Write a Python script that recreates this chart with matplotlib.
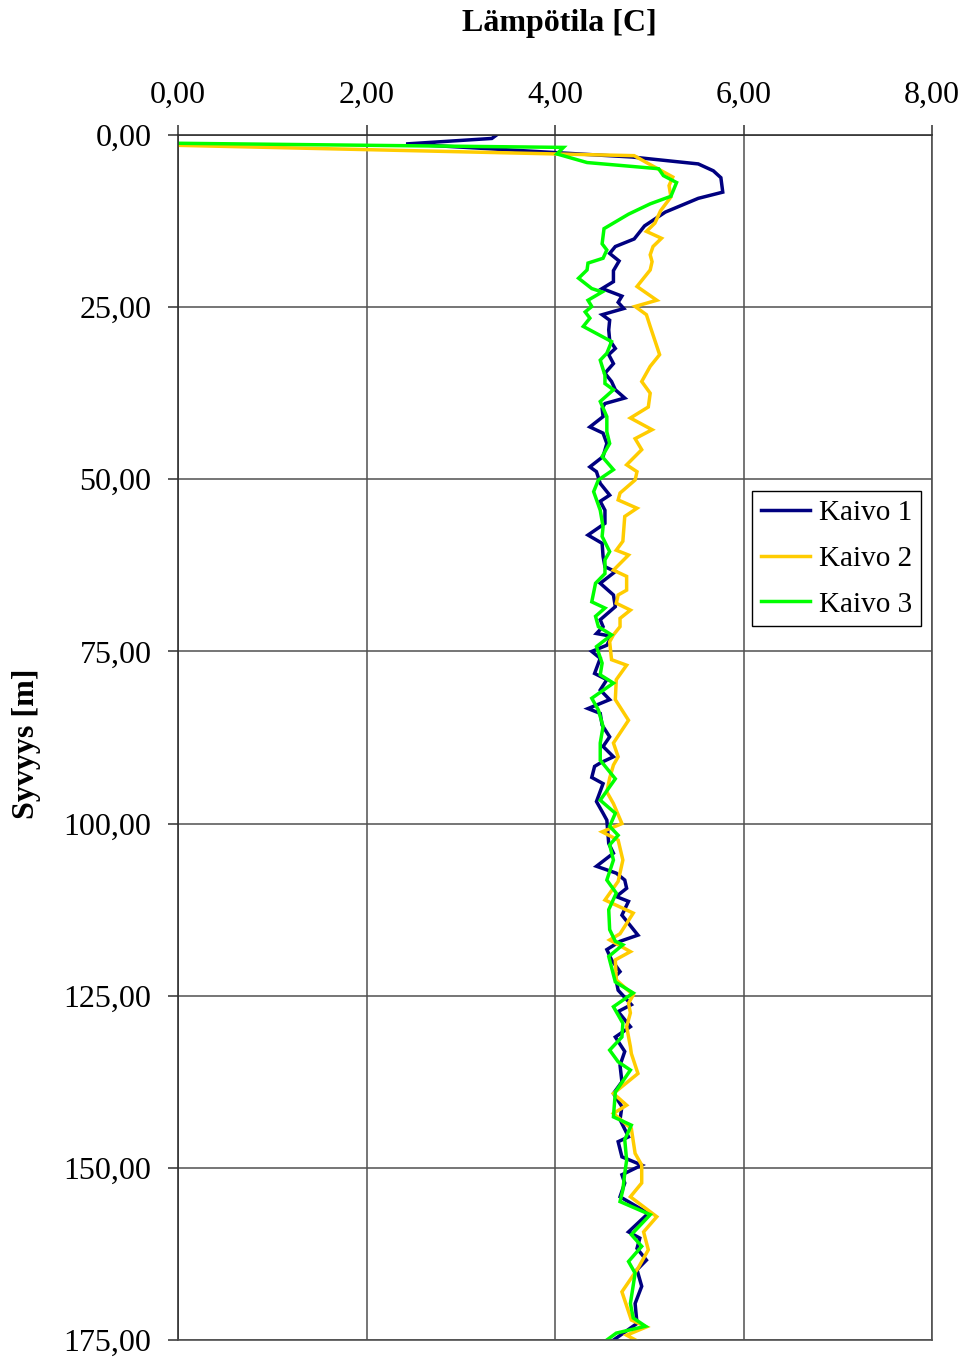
import matplotlib
matplotlib.use("Agg")
import matplotlib.pyplot as plt

# (depth [m], temperature [C]) pairs
kaivo1 = [
    (0.0, 3.38), (0.5, 3.33), (1.3, 2.42), (3.2, 4.82), (4.2, 5.52), (5.2, 5.68), (6.2, 5.76),
    (8.3, 5.78), (9.2, 5.52), (11.2, 5.17), (13.2, 4.95), (15.1, 4.84), (16.2, 4.64), (17.2, 4.58),
    (18.3, 4.68), (19.7, 4.62), (21.3, 4.62), (22.3, 4.50), (23.4, 4.71), (24.3, 4.67), (25.2, 4.73),
    (26.1, 4.50), (26.9, 4.58), (28.3, 4.57), (29.8, 4.58), (31.0, 4.64), (31.9, 4.57), (33.2, 4.62),
    (34.6, 4.53), (35.8, 4.60), (37.0, 4.64), (38.2, 4.74), (39.0, 4.53), (39.7, 4.50), (40.9, 4.51),
    (42.4, 4.37), (43.3, 4.51), (44.8, 4.55), (46.7, 4.51), (48.2, 4.37), (48.9, 4.44), (50.6, 4.48),
    (52.3, 4.58), (53.2, 4.48), (54.5, 4.53), (56.4, 4.53), (58.1, 4.35), (59.3, 4.50), (61.2, 4.51),
    (62.7, 4.53), (63.4, 4.64), (65.1, 4.48), (66.8, 4.62), (68.5, 4.64), (70.4, 4.48), (71.4, 4.51),
    (72.4, 4.44), (72.8, 4.60), (74.1, 4.55), (75.0, 4.39), (76.0, 4.48), (78.2, 4.42), (79.1, 4.55),
    (80.6, 4.48), (82.0, 4.58), (83.3, 4.35), (84.0, 4.48), (85.7, 4.50), (87.4, 4.58), (88.8, 4.51),
    (90.3, 4.62), (91.2, 4.48), (91.7, 4.42), (93.3, 4.39), (94.2, 4.51), (96.8, 4.44), (98.5, 4.51),
    (99.5, 4.55), (102.9, 4.57), (104.3, 4.62), (106.2, 4.44), (107.2, 4.65), (108.2, 4.74),
    (109.4, 4.76), (110.6, 4.65), (111.3, 4.78), (113.3, 4.71), (116.2, 4.88), (117.1, 4.69),
    (118.3, 4.55), (119.8, 4.60), (121.5, 4.69), (122.2, 4.64), (124.2, 4.67), (126.3, 4.81),
    (127.3, 4.67), (129.5, 4.80), (131.0, 4.64), (133.1, 4.74), (135.1, 4.69), (137.5, 4.71),
    (139.2, 4.62), (141.1, 4.71), (143.0, 4.69), (145.5, 4.78), (146.2, 4.67), (148.4, 4.71),
    (149.6, 4.92), (151.0, 4.71), (152.2, 4.74), (154.2, 4.69), (156.6, 4.99), (159.3, 4.78),
    (160.2, 4.90), (161.7, 4.87), (163.4, 4.97), (164.8, 4.87), (167.2, 4.92), (169.7, 4.85),
    (172.6, 4.87), (175.5, 4.57),
]

kaivo2 = [
    (1.5, 0.00), (2.75, 4.00), (3.0, 4.84), (4.0, 4.97), (6.1, 5.25), (7.35, 5.21), (9.0, 5.23),
    (11.0, 5.12), (12.8, 5.06), (14.0, 4.97), (15.0, 5.13), (16.2, 5.04), (17.4, 5.01), (18.4, 5.03),
    (19.6, 5.01), (22.0, 4.87), (24.0, 5.08), (24.9, 4.85), (26.1, 4.97), (27.8, 5.01), (31.9, 5.11),
    (33.6, 5.01), (35.8, 4.92), (37.5, 5.01), (39.5, 4.99), (41.1, 4.80), (42.8, 5.03), (44.1, 4.85),
    (45.7, 4.92), (47.9, 4.76), (48.9, 4.87), (50.1, 4.85), (52.0, 4.69), (53.0, 4.67), (54.2, 4.87),
    (55.4, 4.74), (59.0, 4.72), (60.3, 4.65), (61.0, 4.78), (63.2, 4.62), (64.1, 4.76), (66.1, 4.76),
    (66.8, 4.67), (68.0, 4.65), (69.0, 4.80), (70.2, 4.69), (71.4, 4.69), (72.6, 4.62), (73.6, 4.58),
    (76.2, 4.60), (77.0, 4.76), (79.1, 4.65), (82.0, 4.64), (85.0, 4.78), (88.3, 4.62), (90.3, 4.67),
    (91.5, 4.62), (93.4, 4.58), (95.4, 4.55), (97.1, 4.62), (100.0, 4.71), (101.2, 4.50),
    (102.4, 4.67), (105.3, 4.72), (108.4, 4.67), (111.1, 4.53), (113.0, 4.83), (116.0, 4.69),
    (116.9, 4.58), (118.6, 4.80), (119.8, 4.64), (122.7, 4.65), (124.9, 4.83), (126.1, 4.78),
    (127.5, 4.80), (129.5, 4.76), (132.4, 4.80), (133.4, 4.81), (136.3, 4.88), (139.2, 4.62),
    (140.9, 4.76), (142.1, 4.62), (144.3, 4.81), (147.9, 4.85), (149.6, 4.92), (152.2, 4.92),
    (154.2, 4.80), (157.1, 5.08), (159.3, 4.94), (161.9, 4.99), (164.6, 4.88), (168.0, 4.71),
    (172.1, 4.81), (173.1, 4.97), (174.3, 4.76), (175.5, 4.92),
]

kaivo3 = [
    (1.2, 0.00), (1.8, 4.09), (2.75, 4.02), (4.0, 4.34), (4.9, 5.10), (5.9, 5.15), (6.9, 5.29),
    (8.9, 5.23), (10.0, 5.01), (11.5, 4.78), (13.6, 4.52), (15.8, 4.50), (16.7, 4.55), (17.9, 4.51),
    (18.6, 4.35), (19.6, 4.34), (20.8, 4.25), (22.3, 4.39), (22.8, 4.50), (24.0, 4.35), (24.9, 4.39),
    (25.7, 4.32), (26.6, 4.37), (27.8, 4.30), (30.0, 4.60), (31.7, 4.55), (32.7, 4.48), (34.9, 4.53),
    (36.1, 4.53), (37.0, 4.62), (38.7, 4.48), (40.9, 4.55), (43.1, 4.55), (44.8, 4.58), (46.7, 4.50),
    (48.6, 4.62), (50.1, 4.46), (51.8, 4.41), (54.5, 4.48), (56.9, 4.51), (58.3, 4.50), (60.5, 4.58),
    (61.7, 4.53), (63.7, 4.53), (65.1, 4.43), (67.8, 4.39), (68.7, 4.53), (69.9, 4.43), (71.4, 4.46),
    (72.6, 4.60), (74.3, 4.44), (76.7, 4.50), (78.4, 4.48), (79.6, 4.62), (81.8, 4.39), (83.5, 4.46),
    (85.9, 4.51), (88.3, 4.48), (90.8, 4.48), (93.5, 4.64), (96.6, 4.48), (98.5, 4.64),
    (100.4, 4.58), (101.7, 4.67), (103.1, 4.58), (105.3, 4.62), (108.2, 4.55), (110.1, 4.65),
    (112.5, 4.57), (115.4, 4.58), (117.1, 4.64), (117.6, 4.72), (119.3, 4.57), (123.0, 4.64),
    (124.6, 4.83), (126.6, 4.62), (129.0, 4.72), (131.0, 4.71), (132.9, 4.58), (134.6, 4.67),
    (135.8, 4.80), (139.0, 4.64), (142.6, 4.62), (143.8, 4.81), (145.9, 4.74), (148.9, 4.76),
    (150.8, 4.74), (153.2, 4.72), (154.9, 4.69), (156.8, 5.01), (159.7, 4.81), (161.4, 4.92),
    (163.6, 4.78), (165.3, 4.85), (169.7, 4.80), (171.8, 4.83), (173.0, 4.96), (174.0, 4.65),
    (175.5, 4.50),
]

series_names = ["Kaivo 1", "Kaivo 2", "Kaivo 3"]
series_colors = ["#000080", "#FFCC00", "#00FF00"]
x_ticks = [0, 2, 4, 6, 8]
y_ticks = [0, 25, 50, 75, 100, 125, 150, 175]

plt.rcParams["font.family"] = ["Liberation Serif", "DejaVu Serif"]

fig = plt.figure(figsize=(9.66, 13.58), dpi=100)
ax = fig.add_axes([178 / 966, 1 - 1340 / 1358, (932 - 178) / 966, (1340 - 135) / 1358])

for data, name, col in zip([kaivo1, kaivo2, kaivo3], series_names, series_colors):
    d = [p[0] for p in data]
    t = [p[1] for p in data]
    ax.plot(t, d, color=col, lw=2.5, label=name, solid_joinstyle="miter")

ax.set_xlim(0, 8)
ax.set_ylim(175, 0)
ax.set_xticks(x_ticks)
ax.set_yticks(y_ticks)
ax.set_xticklabels([f"{v:.2f}".replace(".", ",") for v in x_ticks])
ax.set_yticklabels([f"{v:.2f}".replace(".", ",") for v in y_ticks])
ax.xaxis.tick_top()
ax.tick_params(axis="both", labelsize=23, length=7, width=1.2, color="#404040")
ax.tick_params(axis="x", pad=11)
ax.tick_params(axis="y", pad=12)
ax.grid(True, color="#505050", lw=1.1)
ax.set_axisbelow(True)
for s in ax.spines.values():
    s.set_color("#505050")
    s.set_linewidth(1.2)
ax.spines["top"].set_color("#303030")
ax.spines["left"].set_color("#303030")

fig.text(559 / 966, 1 - 24 / 1358, "Lämpötila [C]", fontsize=23, fontweight="bold",
         ha="center", va="center")
fig.text(27 / 966, 1 - 744 / 1358, "Syvyys [m]", fontsize=23, fontweight="bold",
         ha="center", va="center", rotation=90)

leg = ax.legend(loc="upper right", bbox_to_anchor=((921 - 178) / 754, 1 - (491 - 135) / 1205),
                borderaxespad=0, fontsize=21, fancybox=False, framealpha=1,
                edgecolor="black", handlelength=1.7, handletextpad=0.3,
                labelspacing=0.66, borderpad=0.3)
leg.get_frame().set_linewidth(1.0)

fig.savefig("out.png", dpi=100)
